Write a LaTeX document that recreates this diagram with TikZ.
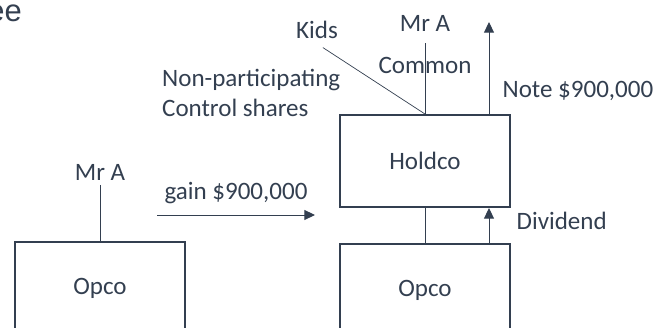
\documentclass[tikz,border=0pt]{standalone}
\usepackage{fontspec}
\setmainfont{Carlito}
\newfontfamily\titlefont{Liberation Sans}
\usetikzlibrary{arrows.meta, positioning, calc}
\definecolor{ink}{RGB}{51,63,80}

\begin{document}
\begin{tikzpicture}[
		company/.style={draw=ink, line width=1.4pt, minimum width=4.25cm, minimum height=2.3cm},
		label/.style={text=ink, font=\fontsize{17.8}{21.3}\selectfont},
		link/.style={draw=ink, line width=0.7pt},
		flow/.style={link, ->},
		>={Triangle[length=7.5pt, width=7pt]}]

	\clip (0,0) rectangle (16.625,8.2);

	\node[text=ink, font=\titlefont\fontsize{22}{26}\selectfont, anchor=base east, inner sep=0pt] (title) at (0.55,7.65) {ee};

	\node[company, label] (opcoL) at (2.5,1.0) {Opco};
	\node[company, label] (holdco) at (10.625,4.175) {Holdco};
	\node[company, label, below=0.875cm of holdco] (opcoR) {Opco};

	\node[label] (mrAL) at (2.5,3.9) {Mr A};
	\node[label] (mrAR) at (10.625,7.625) {Mr A};
	\node[label] (kids) at (7.925,7.45) {Kids};
	\node[label, anchor=west, align=left] (nonpart) at (3.93,5.875) {Non-participating\\Control shares};

	\path (3.925,2.825) coordinate (gainStart);
	\path (7.875,2.825) coordinate (gainEnd);
	\path (12.225,7.65) coordinate (noteTop);

	\draw[link] (mrAL.south) -- (opcoL.north);
	\draw[flow] (gainStart) -- (gainEnd) node[midway, above=4pt, label] (gain) {gain \$900,000};

	\draw[link, shorten <=5pt] (mrAR.south) -- (holdco.north);
	\node[label] (common) at (10.625,6.575) {Common};
	\draw[draw=ink, line width=0.5pt, shorten <=5pt] (kids.south) -- (holdco.north);
	\draw[flow] (noteTop |- holdco.north) -- (noteTop) node[pos=0.25, right=6pt, label] (note) {Note \$900,000};

	\draw[link] (holdco.south) -- (opcoR.north);
	\draw[flow] (noteTop |- opcoR.north) -- (noteTop |- holdco.south) node[pos=0.63, right=16pt, label] (dividend) {Dividend};
\end{tikzpicture}
\end{document}
